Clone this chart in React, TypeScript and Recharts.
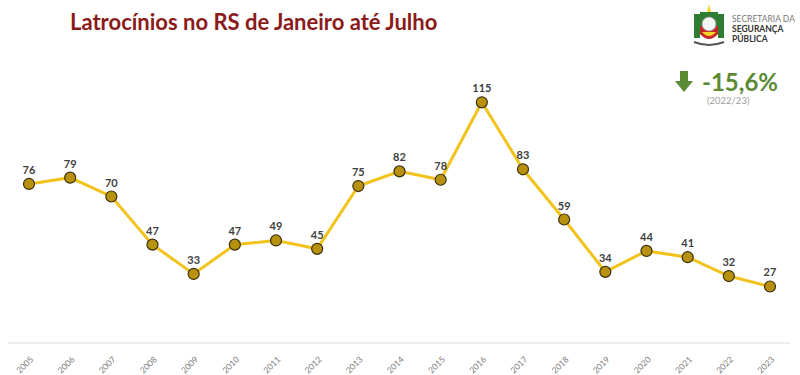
import { LineChart, Line, XAxis, YAxis, LabelList } from "recharts";

const years = [
  "2005", "2006", "2007", "2008", "2009", "2010", "2011", "2012", "2013", "2014",
  "2015", "2016", "2017", "2018", "2019", "2020", "2021", "2022", "2023",
];
const latrocinios = [76, 79, 70, 47, 33, 47, 49, 45, 75, 82, 78, 115, 83, 59, 34, 44, 41, 32, 27];

const title = "Latrocínios no RS de Janeiro até Julho";
const variation = "-15,6%";
const variationPeriod = "(2022/23)";

const data = years.map((y, i) => ({ year: y, value: latrocinios[i] }));

function YearTick({ x, y, payload }: any) {
  return (
    <text
      x={x + 5}
      y={y + 9}
      transform={`rotate(-45, ${x + 5}, ${y + 9})`}
      textAnchor="end"
      fontSize={8.5}
      fill="#7a7a7a"
      fontFamily="Lato, sans-serif"
    >
      {payload.value}
    </text>
  );
}

function Dot({ cx, cy }: any) {
  return <circle cx={cx} cy={cy} r={5.5} fill="#b8920f" stroke="#3b300c" strokeWidth={1.2} />;
}

function Logo() {
  return (
    <svg width={160} height={50} style={{ position: "absolute", left: 688, top: 4 }}>
      <rect x={6} y={10} width={6} height={24} fill="#2e7d32" />
      <rect x={30} y={10} width={6} height={24} fill="#2e7d32" />
      <path d="M12 8 L30 8 L30 30 Q21 40 12 30 Z" fill="#c62828" />
      <path d="M12 8 L30 8 L30 22 L12 22 Z" fill="#2e7d32" />
      <circle cx={21} cy={20} r={7} fill="#f5f5f5" stroke="#999" strokeWidth={0.8} />
      <path d="M14 28 Q21 36 28 28" fill="#f9d423" />
      <path d="M6 38 Q21 44 36 38" stroke="#555" strokeWidth={2} fill="none" />
      <path d="M21 0 L23 8 L19 8 Z" fill="#f9d423" />
      <text x={44} y={18} fontSize={8.5} fill="#777" fontFamily="Lato, sans-serif">SECRETARIA DA</text>
      <text x={44} y={28} fontSize={8.5} fill="#333" fontWeight={700} fontFamily="Lato, sans-serif">SEGURANÇA</text>
      <text x={44} y={38} fontSize={8.5} fill="#333" fontWeight={700} fontFamily="Lato, sans-serif">PÚBLICA</text>
    </svg>
  );
}

export default function App() {
  return (
    <div style={{ position: "relative", width: 800, height: 375, background: "#fff", overflow: "hidden" }}>
      <style>{`body{margin:0}`}</style>
      <div
        style={{
          position: "absolute",
          left: 70,
          top: 8,
          fontFamily: "Lato, 'Open Sans', sans-serif",
          fontWeight: 700,
          fontSize: 22,
          color: "#8b1a1a",
          whiteSpace: "nowrap",
        }}
      >
        {title}
      </div>
      <Logo />
      <div
        style={{
          position: "absolute",
          left: 675,
          top: 67,
          display: "flex",
          alignItems: "center",
          fontFamily: "Lato, 'Open Sans', sans-serif",
          color: "#5b8a35",
          fontWeight: 700,
          fontSize: 24,
        }}
      >
        <svg width={18} height={22} style={{ marginRight: 9 }}>
          <rect x={5} y={0} width={8} height={11} fill="#5b8a35" />
          <path d="M0 10 L18 10 L9 21 Z" fill="#5b8a35" />
        </svg>
        {variation}
      </div>
      <div
        style={{
          position: "absolute",
          left: 707,
          top: 95,
          fontFamily: "Lato, 'Open Sans', sans-serif",
          color: "#a0a0a0",
          fontSize: 9.5,
        }}
      >
        {variationPeriod}
      </div>
      <div style={{ position: "absolute", left: 0, top: 0 }}>
        <LineChart width={800} height={375} data={data} margin={{ top: 50, right: 10, left: 8, bottom: 0 }}>
          <XAxis
            dataKey="year"
            height={32}
            tick={<YearTick />}
            tickLine={false}
            axisLine={{ stroke: "#d9d9d9" }}
            interval={0}
            padding={{ left: 21, right: 20 }}
          />
          <YAxis hide domain={[0, 140]} />
          <Line
            dataKey="value"
            stroke="#f2c31a"
            strokeWidth={3}
            dot={<Dot />}
            activeDot={false}
            isAnimationActive={false}
          >
            <LabelList
              dataKey="value"
              position="top"
              offset={10}
              fontSize={11}
              fontWeight={700}
              fill="#404040"
              fontFamily="Lato, sans-serif"
            />
          </Line>
        </LineChart>
      </div>
    </div>
  );
}
